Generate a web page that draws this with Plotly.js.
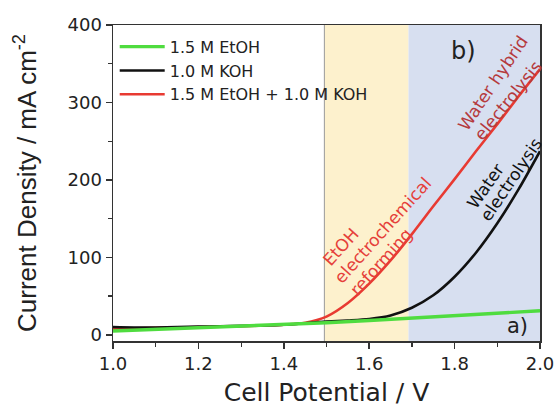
<!DOCTYPE html>
<html>
<head>
<meta charset="utf-8">
<script src="https://cdn.plot.ly/plotly-3.0.1.min.js"></script>
<style>
html,body{margin:0;padding:0;background:#fff;}
#chart{width:557px;height:407px;}
</style>
</head>
<body>
<div id="chart"></div>
<script>
// Cell potential (V) and current density (mA cm^-2)
const seriesNames = ["1.5 M EtOH + 1.0 M KOH", "1.0 M KOH", "1.5 M EtOH"];

const vMix = [1.00,1.05,1.10,1.15,1.20,1.25,1.30,1.35,1.40,1.45,1.50,1.55,1.60,1.65,1.70,1.75,1.80,1.85,1.90,1.95,2.00];
const jMix = [8,8.5,9,9.5,10,10.5,11,12,13,15.5,23.5,41,66,96,130,166,201,237,272,308,343];

const vKOH = [1.00,1.05,1.10,1.15,1.20,1.25,1.30,1.35,1.40,1.45,1.50,1.55,1.60,1.65,1.70,1.75,1.80,1.85,1.90,1.95,2.00];
const jKOH = [10,9.5,9.5,10,10.5,11,11.5,12,13,15,17,18.5,20.5,25,35,51,75,106,144,188,237];

const vEtOH = [1.0,1.1,1.2,1.3,1.4,1.5,1.6,1.7,1.8,1.9,2.0];
const jEtOH = [5,7,9,11,13,15.5,18.5,21.5,24.5,28,31];

const xTicks = [1.0,1.2,1.4,1.6,1.8,2.0];
const xTickText = ["1.0","1.2","1.4","1.6","1.8","2.0"];
const yTicks = [0,100,200,300,400];
const yTickText = ["0","100","200","300","400"];

const regionEdges = [1.495, 1.692, 2.0];

// region labels, one entry per text line
const labelLines = ["EtOH", "electrochemical", "reforming", "Water hybrid", "electrolysis", "Water", "electrolysis"];
const labelX = [1.533, 1.632, 1.628, 1.890, 1.926, 1.872, 1.933];
const labelY = [113.5, 135.5, 93.5, 325, 303, 192.5, 201];
const labelAngle = [-48, -48, -48, -56, -51, -55, -56];
const labelColor = ["#e5403a", "#e5403a", "#e5403a", "#b53a3d", "#b53a3d", "#111", "#111"];

const font = "DejaVu Sans, sans-serif";

const traces = [
  {x: vMix, y: jMix, name: seriesNames[0], mode: "lines", line: {color: "#e83a32", width: 2.6, shape: "spline", smoothing: 0.8}},
  {x: vKOH, y: jKOH, name: seriesNames[1], mode: "lines", line: {color: "#111111", width: 2.6, shape: "spline", smoothing: 0.8}},
  {x: vEtOH, y: jEtOH, name: seriesNames[2], mode: "lines", line: {color: "#4fdc3f", width: 3.4}}
];

const axisCommon = {
  showline: true, linecolor: "#333", linewidth: 1.5, mirror: true,
  showgrid: false, zeroline: false,
  ticks: "outside", ticklen: 6, tickwidth: 1.5, tickcolor: "#333",
  tickfont: {family: font, size: 18, color: "#222"}
};

const annotations = labelLines.map((t, i) => ({
  x: labelX[i], y: labelY[i], xref: "x", yref: "y", text: t, showarrow: false,
  textangle: labelAngle[i], xanchor: "center", yanchor: "middle",
  font: {family: font, size: 17, color: labelColor[i]}
}));
annotations.push(
  {x: 1.822, y: 366, xref: "x", yref: "y", text: "b)", showarrow: false, xanchor: "center", yanchor: "middle",
   font: {family: font, size: 24, color: "#222"}},
  {x: 1.948, y: 11.6, xref: "x", yref: "y", text: "a)", showarrow: false, xanchor: "center", yanchor: "middle",
   font: {family: font, size: 21, color: "#222"}}
);

const layout = {
  width: 557, height: 407,
  margin: {l: 113, r: 17, t: 25, b: 66},
  paper_bgcolor: "#fff", plot_bgcolor: "#fff",
  showlegend: true,
  legend: {x: 0.004, y: 0.985, xanchor: "left", yanchor: "top", traceorder: "reversed",
           bgcolor: "rgba(0,0,0,0)", font: {family: font, size: 16, color: "#222"}, itemwidth: 45, tracegroupgap: 0},
  xaxis: Object.assign({}, axisCommon, {
    range: [1.0, 2.0], tickvals: xTicks, ticktext: xTickText,
    minor: {ticks: "outside", dtick: 0.1, tick0: 1.0, ticklen: 4, tickwidth: 1.2, tickcolor: "#333"},
    title: {text: "Cell Potential / V", font: {family: font, size: 25, color: "#222"}, standoff: 20}
  }),
  yaxis: Object.assign({}, axisCommon, {
    range: [-8, 400], tickvals: yTicks, ticktext: yTickText,
    minor: {ticks: "outside", dtick: 50, tick0: 0, ticklen: 4, tickwidth: 1.2, tickcolor: "#333"},
    title: {text: "Current Density / mA cm<sup>-2</sup>", font: {family: "Liberation Sans, Arial, sans-serif", size: 26, color: "#222"}, standoff: 23}
  }),
  shapes: [
    {type: "rect", xref: "x", yref: "paper", x0: regionEdges[0], x1: regionEdges[1], y0: 0, y1: 1, fillcolor: "#fdf1cd", line: {width: 0}, layer: "below"},
    {type: "rect", xref: "x", yref: "paper", x0: regionEdges[1], x1: regionEdges[2], y0: 0, y1: 1, fillcolor: "#d7dff0", line: {width: 0}, layer: "below"},
    {type: "line", xref: "x", yref: "paper", x0: regionEdges[0], x1: regionEdges[0], y0: 0, y1: 1, line: {color: "#9a9a9a", width: 1}, layer: "below"}
  ],
  annotations: annotations
};

Plotly.newPlot("chart", traces, layout, {displayModeBar: false, staticPlot: true});
</script>
</body>
</html>
